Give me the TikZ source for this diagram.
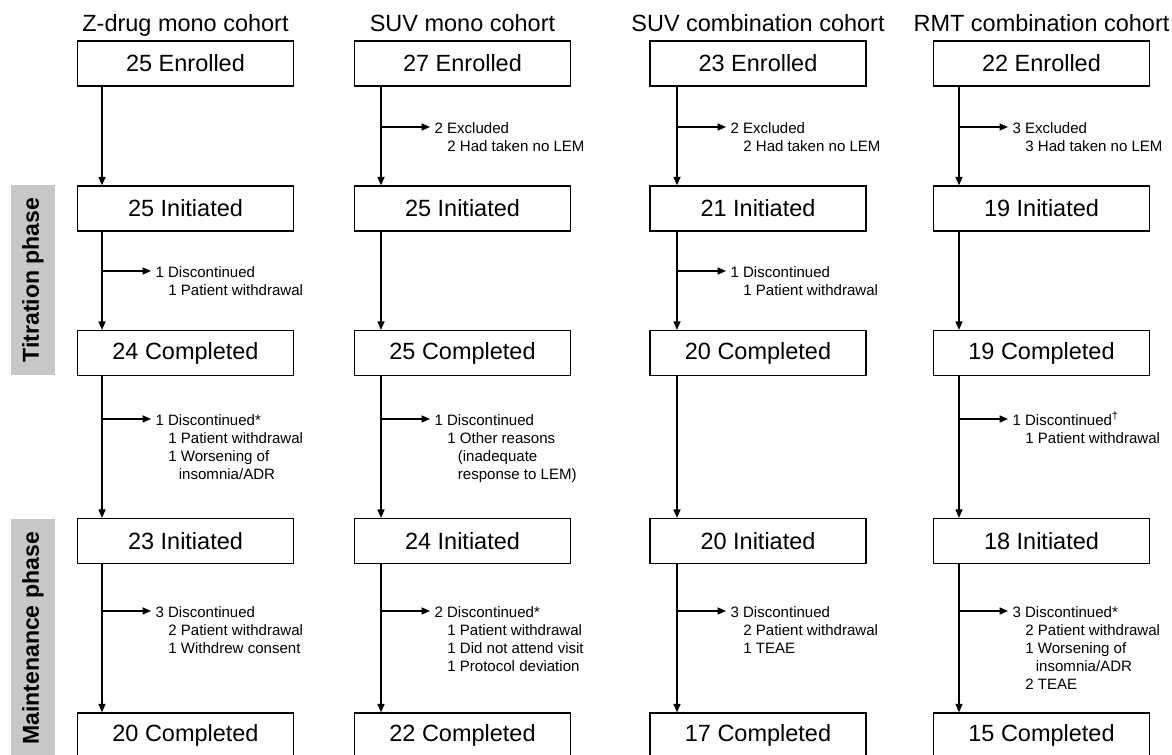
\documentclass[tikz,border=0pt]{standalone}
\usepackage{fontspec}
\setmainfont{Liberation Sans}
\usetikzlibrary{arrows.meta,positioning}
\definecolor{phasegray}{HTML}{C8C8C8}
\newcommand{\lvone}{\hspace*{0.85em}}
\newcommand{\lvtwo}{\hspace*{1.55em}}

\begin{document}
\begin{tikzpicture}[
  x=0.025cm, y=-0.025cm,
  line width=0.9pt,
  box/.style={draw, line width=0.9pt, minimum width=5.4cm, minimum height=1.125cm, inner sep=0pt, font=\fontsize{16.7}{20}\selectfont},
  cohort/.style={anchor=base, inner sep=0pt, font=\fontsize{16.7}{20}\selectfont},
  note/.style={anchor=north west, align=left, inner sep=0pt, xshift=2.8pt, yshift=3.8pt, font=\fontsize{10.7}{12.8}\selectfont},
  phase/.style={fill=phasegray, rotate=90, minimum height=1.1cm, inner sep=0pt, font=\fontsize{16.4}{20}\selectfont\bfseries},
  arrow/.style={-{Triangle[length=6pt,width=5pt]}},
  heavy/.style={line width=1.5pt}
]
\useasboundingbox (0,0) rectangle (1172,755);

% cohort titles
\node[cohort] (c1) at (185.5,32) {Z-drug mono cohort};
\node[cohort] (c2) at (462.5,32) {SUV mono cohort};
\node[cohort] (c3) at (758,32) {SUV combination cohort};
\node[cohort] (c4) at (1041.5,32) {RMT combination cohort};

% phase bars
\node[phase, minimum width=4.75cm] (pt) at (33,280) {Titration phase};
\node[phase, minimum width=5.975cm] (pm) at (33,638.5) {Maintenance phase};

% trunk lines
\coordinate (t1) at (102,0);
\coordinate (t2) at (381,0);
\coordinate (t3) at (677,0);
\coordinate (t4) at (959,0);

% Z-drug mono
\node[box] (e1) at (185.5,63.5) {25 Enrolled};
\node[box] (ti1) at (185.5,208.5) {25 Initiated};
\node[box] (tc1) at (185.5,353) {24 Completed};
\node[box] (mi1) at (185.5,541) {23 Initiated};
\node[box] (mc1) at (185.5,735.5) {20 Completed};
\coordinate (k1b) at (151,271);
\coordinate (k1c) at (151,419);
\coordinate (k1d) at (151,611);
\draw[arrow] (e1.south -| t1) -- (ti1.north -| t1);
\draw[arrow] (ti1.south -| t1) -- (tc1.north -| t1);
\draw[arrow] (tc1.south -| t1) -- (mi1.north -| t1);
\draw[arrow] (mi1.south -| t1) -- (mc1.north -| t1);
\draw[arrow] (k1b -| t1) -- (k1b);
\draw[arrow] (k1c -| t1) -- (k1c);
\draw[arrow] (k1d -| t1) -- (k1d);
\node[note] (td1) at (k1b) {1 Discontinued\\\lvone 1 Patient withdrawal};
\node[note] (bd1) at (k1c) {1 Discontinued*\\\lvone 1 Patient withdrawal\\\lvone 1 Worsening of\\\lvtwo insomnia/ADR};
\node[note] (md1) at (k1d) {3 Discontinued\\\lvone 2 Patient withdrawal\\\lvone 1 Withdrew consent};

% SUV mono
\node[box] (e2) at (462.5,63.5) {27 Enrolled};
\node[box] (ti2) at (462.5,208.5) {25 Initiated};
\node[box] (tc2) at (462.5,353) {25 Completed};
\node[box] (mi2) at (462.5,541) {24 Initiated};
\node[box] (mc2) at (462.5,735.5) {22 Completed};
\coordinate (k2a) at (430,127);
\coordinate (k2c) at (430,419);
\coordinate (k2d) at (430,611);
\draw[arrow] (e2.south -| t2) -- (ti2.north -| t2);
\draw[arrow] (ti2.south -| t2) -- (tc2.north -| t2);
\draw[arrow] (tc2.south -| t2) -- (mi2.north -| t2);
\draw[arrow] (mi2.south -| t2) -- (mc2.north -| t2);
\draw[arrow] (k2a -| t2) -- (k2a);
\draw[arrow] (k2c -| t2) -- (k2c);
\draw[arrow] (k2d -| t2) -- (k2d);
\node[note] (x2) at (k2a) {2 Excluded\\\lvone 2 Had taken no LEM};
\node[note] (bd2) at (k2c) {1 Discontinued\\\lvone 1 Other reasons\\\lvtwo (inadequate\\\lvtwo response to LEM)};
\node[note] (md2) at (k2d) {2 Discontinued*\\\lvone 1 Patient withdrawal\\\lvone 1 Did not attend visit\\\lvone 1 Protocol deviation};

% SUV combination
\node[box] (e3) at (758,63.5) {23 Enrolled};
\node[box] (ti3) at (758,208.5) {21 Initiated};
\node[box] (tc3) at (758,353) {20 Completed};
\node[box] (mi3) at (758,541) {20 Initiated};
\node[box] (mc3) at (758,735.5) {17 Completed};
\coordinate (k3a) at (726,127);
\coordinate (k3b) at (726,271);
\coordinate (k3d) at (726,611);
\draw[arrow] (e3.south -| t3) -- (ti3.north -| t3);
\draw[arrow] (ti3.south -| t3) -- (tc3.north -| t3);
\draw[arrow] (tc3.south -| t3) -- (mi3.north -| t3);
\draw[arrow] (mi3.south -| t3) -- (mc3.north -| t3);
\draw[heavy] (e3.south -| t3) -- (k3a -| t3);
\draw[heavy] (ti3.south -| t3) -- (k3b -| t3);
\draw[heavy] (mi3.south -| t3) -- (k3d -| t3);
\draw[arrow] (k3a -| t3) -- (k3a);
\draw[arrow] (k3b -| t3) -- (k3b);
\draw[arrow] (k3d -| t3) -- (k3d);
\node[note] (x3) at (k3a) {2 Excluded\\\lvone 2 Had taken no LEM};
\node[note] (td3) at (k3b) {1 Discontinued\\\lvone 1 Patient withdrawal};
\node[note] (md3) at (k3d) {3 Discontinued\\\lvone 2 Patient withdrawal\\\lvone 1 TEAE};

% RMT combination
\node[box] (e4) at (1041.5,63.5) {22 Enrolled};
\node[box] (ti4) at (1041.5,208.5) {19 Initiated};
\node[box] (tc4) at (1041.5,353) {19 Completed};
\node[box] (mi4) at (1041.5,541) {18 Initiated};
\node[box] (mc4) at (1041.5,735.5) {15 Completed};
\coordinate (k4a) at (1008,127);
\coordinate (k4c) at (1008,419);
\coordinate (k4d) at (1008,611);
\draw[arrow] (e4.south -| t4) -- (ti4.north -| t4);
\draw[arrow] (ti4.south -| t4) -- (tc4.north -| t4);
\draw[arrow] (tc4.south -| t4) -- (mi4.north -| t4);
\draw[arrow] (mi4.south -| t4) -- (mc4.north -| t4);
\draw[arrow] (k4a -| t4) -- (k4a);
\draw[arrow] (k4c -| t4) -- (k4c);
\draw[arrow] (k4d -| t4) -- (k4d);
\node[note] (x4) at (k4a) {3 Excluded\\\lvone 3 Had taken no LEM};
\node[note] (bd4) at (k4c) {1 Discontinued\smash{\textsuperscript{†}}\\\lvone 1 Patient withdrawal};
\node[note] (md4) at (k4d) {3 Discontinued*\\\lvone 2 Patient withdrawal\\\lvone 1 Worsening of\\\lvtwo insomnia/ADR\\\lvone 2 TEAE};
\end{tikzpicture}
\end{document}
